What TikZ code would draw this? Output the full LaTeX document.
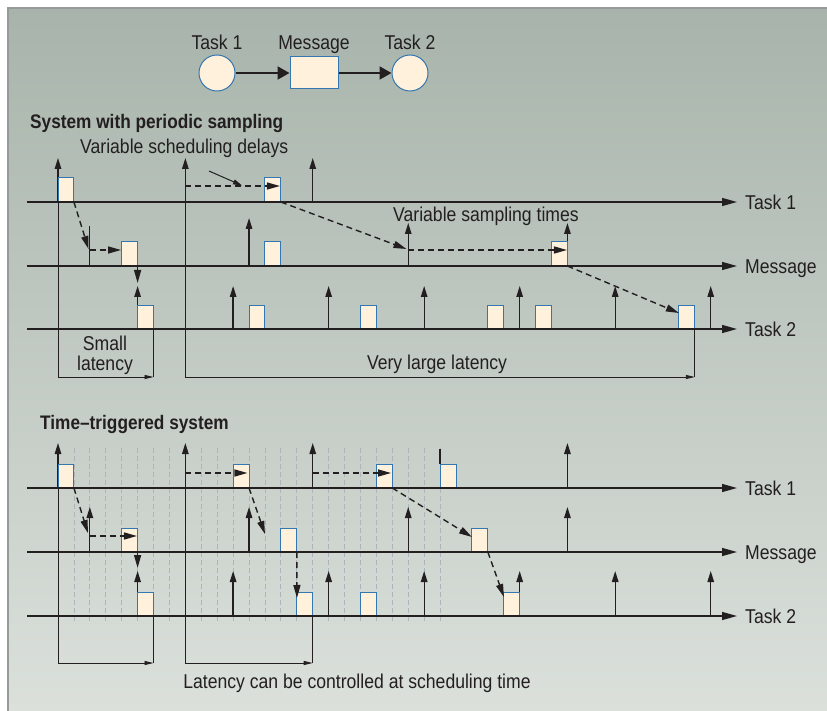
\documentclass[tikz,border=0pt]{standalone}
\usepackage{fontspec}
\setmainfont{Liberation Sans}[FakeStretch=0.88]
\usetikzlibrary{arrows.meta, positioning}
\definecolor{Ink}{RGB}{35,31,32}
\definecolor{SlotFill}{RGB}{255,241,219}
\definecolor{SlotBlue}{RGB}{52,118,176}
\definecolor{PanelTop}{RGB}{168,180,171}
\definecolor{PanelBottom}{RGB}{219,224,219}
\definecolor{GridGray}{RGB}{172,180,188}
\definecolor{FrameGray}{RGB}{150,154,154}
\def\u{15.92}
\def\xo{58}

\tikzset{
  lbl/.style={font=\fontsize{20}{24}\selectfont, text=Ink, inner sep=0pt, text height=14.5pt, text depth=0pt},
  ttl/.style={font=\fontsize{19.6}{23}\selectfont\bfseries, text=Ink, inner sep=0pt, text height=14pt, text depth=0pt},
  task/.style={circle, draw=SlotBlue, fill=SlotFill, line width=1pt, minimum size=36pt, inner sep=0pt},
  msg/.style={rectangle, draw=SlotBlue, fill=SlotFill, line width=1pt, minimum width=48pt, minimum height=32pt, inner sep=0pt},
  link/.style={Ink, line width=2pt, -{Triangle[length=12pt,width=13pt]}},
  axis/.style={Ink, line width=1.3pt, -{Triangle[length=15pt,width=8pt]}},
  tick/.style={Ink, line width=1.3pt, -{Triangle[length=11pt,width=6.5pt]}},
  flow/.style={Ink, line width=1.4pt, dash pattern=on 6pt off 4pt, -{Triangle[length=13pt,width=7pt]}},
  lat/.style={Ink, line width=0.9pt, -{Triangle[length=9pt,width=4pt]}},
  bracket/.style={Ink, line width=0.9pt},
  slot/.style={draw=SlotBlue, fill=SlotFill, line width=1pt},
  slotline/.style={GridGray, line width=0.8pt, dash pattern=on 5pt off 3pt},
  note/.style={Ink, line width=1pt, -{Triangle[length=9pt,width=5pt]}}
}

\begin{document}
\begin{tikzpicture}[x=1pt, y=-1pt]
\useasboundingbox (0,0) rectangle (827,711);

% panel
\shade[top color=PanelTop, bottom color=PanelBottom] (8,8) rectangle (827,711);
\draw[FrameGray, line width=2pt] (8,711) -- (8,8) -- (827,8);

% legend
\node[task] (t1) at (217,73) {};
\node[msg, right=54pt of t1] (msg) {};
\node[task, right=53pt of msg] (t2) {};
\draw[link] (t1) -- (msg);
\draw[link] (msg) -- (t2);
\node[lbl, above=5pt of t1] (t1lbl) {Task 1};
\node[lbl, above=7pt of msg] (msglbl) {Message};
\node[lbl, above=5pt of t2] (t2lbl) {Task 2};

% titles and notes
\node[ttl, anchor=west] (persys) at (30,122) {System with periodic sampling};
\node[lbl, anchor=west] (delays) at (80,146) {Variable scheduling delays};
\node[lbl, anchor=west] (samptimes) at (393,214) {Variable sampling times};
\node[ttl, anchor=west] (ttsys) at (40,422) {Time\textendash triggered system};

% time slots (time-triggered)
\foreach \k in {1,...,7,9,10,...,24}
  \draw[slotline] ({\xo+\k*\u},448) -- ({\xo+\k*\u},623);

% latency brackets: start/end/from/axis/bottom
\foreach \ka/\kb/\ys/\yt/\yb in {0/6/202/329/377, 8/40/202/329/377, 0/6/488/616/663, 8/16/488/616/663}{
  \draw[lat] ({\xo+\ka*\u},\ys) -- ({\xo+\ka*\u},\yb) -- ({\xo+\kb*\u},\yb);
  \draw[bracket] ({\xo+\kb*\u},\yt) -- ({\xo+\kb*\u},\yb);
}
\node[lbl] (small) at (105,343) {Small};
\node[lbl] (smalllat) at (105,363) {latency};
\node[lbl] (biglat) at (437,362) {Very large latency};
\node[lbl] (ctrllat) at (357,681) {Latency can be controlled at scheduling time};

% activations: slot/axis/top
\foreach \k/\ya/\yb in {0/202/158, 8/202/158, 16/202/158, 12/266/218, 22/266/223, 32/266/223,
    0/488/443, 8/488/443, 16/488/443, 32/488/443, 2/552/507, 12/552/507, 22/552/507, 32/552/507}
  \draw[tick] ({\xo+\k*\u},\ya) -- ({\xo+\k*\u},\yb);
\foreach \k in {5,11,...,41}{
  \draw[tick] ({\xo+\k*\u},329) -- ({\xo+\k*\u},286);
  \draw[tick] ({\xo+\k*\u},616) -- ({\xo+\k*\u},571);
}
\draw[bracket, line width=1.3pt] ({\xo+2*\u},266) -- ({\xo+2*\u},226);
\draw[bracket, line width=1.3pt] ({\xo+24*\u},464) -- ({\xo+24*\u},449);

% executions
\foreach \k/\y in {0/202, 13/202, 4/266, 13/266, 31/266, 5/329, 12/329, 19/329, 27/329, 30/329, 39/329,
    0/488, 11/488, 20/488, 24/488, 4/552, 14/552, 26/552, 5/616, 15/616, 19/616, 28/616}
  \draw[slot] ({\xo+\k*\u},\y) rectangle ({\xo+(\k+1)*\u},{\y-24});

% axes
\foreach \y/\name/\txt in {202/a1/Task 1, 266/a2/Message, 329/a3/Task 2, 488/b1/Task 1, 552/b2/Message, 616/b3/Task 2}{
  \draw[axis] (27,\y) -- (737,\y);
  \node[lbl, anchor=west] (\name) at (745,\y) {\txt};
}

% data flow
\foreach \ka/\ya/\kb/\yb in {1/202/1.92/249, 2/250/3.96/250, 5/266/5/283, 8/186/13.94/186,
    14/202/21.89/249, 22/250/31.97/250, 32/266/39/313,
    1/488/1.88/533, 2/536/4.96/536, 5/552/5/568, 8/473/11.9/473, 16/473/20.92/473,
    12/488/13/534, 15/552/15.01/598, 21/488/26/537, 27/552/28.01/597}
  \draw[flow] ({\xo+\ka*\u},\ya) -- ({\xo+\kb*\u},\yb);
\draw[note] (209,171) -- (242,185.5);

\end{tikzpicture}
\end{document}
